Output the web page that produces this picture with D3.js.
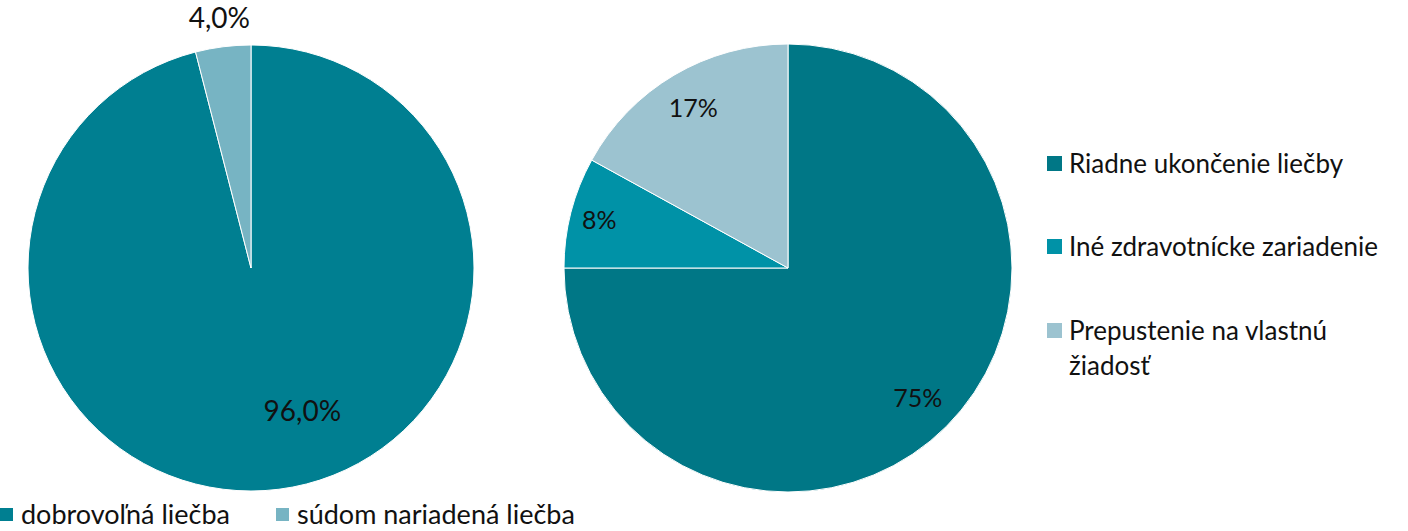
<!DOCTYPE html>
<html><head><meta charset="utf-8">
<script src="https://cdn.jsdelivr.net/npm/d3@7"></script>
<style>body{margin:0;background:#fff}svg{display:block}text{font-family:Lato,"Open Sans",sans-serif;fill:#111}</style>
</head><body>
<script>
const leftCategories = ["dobrovoľná liečba", "súdom nariadená liečba"];
const leftValues = [96.0, 4.0];
const leftLabels = ["96,0%", "4,0%"];
const leftColors = ["#007F91", "#77B4C3"];

const rightCategories = ["Riadne ukončenie liečby", "Iné zdravotnícke zariadenie", "Prepustenie na vlastnú žiadosť"];
const rightValues = [75, 8, 17];
const rightLabels = ["75%", "8%", "17%"];
const rightColors = ["#007786", "#0092A7", "#9CC3D0"];

const W = 1408, H = 531;
const svg = d3.select("body").append("svg").attr("width", W).attr("height", H);
const pie = d3.pie().sort(null).value(d => d);

function drawPie(cx, cy, R, values, colors, labels, labelCfg, fs) {
  const g = svg.append("g").attr("transform", `translate(${cx},${cy})`);
  const arcs = pie(values);
  const arc = d3.arc().innerRadius(0).outerRadius(R);
  g.selectAll("path").data(arcs).join("path")
    .attr("d", arc).attr("fill", (d, i) => colors[i])
    .attr("stroke", "#fff").attr("stroke-width", 1);
  g.selectAll("text").data(arcs).join("text")
    .attr("transform", (d, i) => {
      const c = labelCfg[i];
      const a = (d.startAngle + d.endAngle) / 2 + (c.da || 0);
      const r = R * c.r;
      return `translate(${Math.sin(a) * r},${-Math.cos(a) * r})`;
    })
    .attr("text-anchor", "middle").attr("dy", "0.36em")
    .style("font-size", fs + "px")
    .text((d, i) => labels[i]);
}

drawPie(251, 268, 223, leftValues, leftColors, leftLabels,
  [{r: 0.68, da: -0.22}, {r: 1.13}], 28);
drawPie(788, 268, 224, rightValues, rightColors, rightLabels,
  [{r: 0.82}, {r: 0.87}, {r: 0.83}], 25);

// bottom legend (left pie)
const lg = svg.append("g");
const lx = [0, 276];
leftCategories.forEach((c, i) => {
  lg.append("rect").attr("x", lx[i]).attr("y", 508).attr("width", 13).attr("height", 13).attr("fill", leftColors[i]);
  lg.append("text").attr("x", lx[i] + 21).attr("y", 524).style("font-size", "27px").text(c);
});

// right legend
const rg = svg.append("g");
const ry = [164, 247, 331];
rightCategories.forEach((c, i) => {
  rg.append("rect").attr("x", 1047).attr("y", ry[i] - 8).attr("width", 15).attr("height", 15).attr("fill", rightColors[i]);
  const t = rg.append("text").attr("x", 1069).attr("y", ry[i]).attr("dy", "0.35em").style("font-size", "26px");
  if (i === 2) {
    t.append("tspan").attr("x", 1069).text("Prepustenie na vlastnú");
    t.append("tspan").attr("x", 1069).attr("dy", "1.35em").text("žiadosť");
  } else t.text(c);
});
</script>
</body></html>
